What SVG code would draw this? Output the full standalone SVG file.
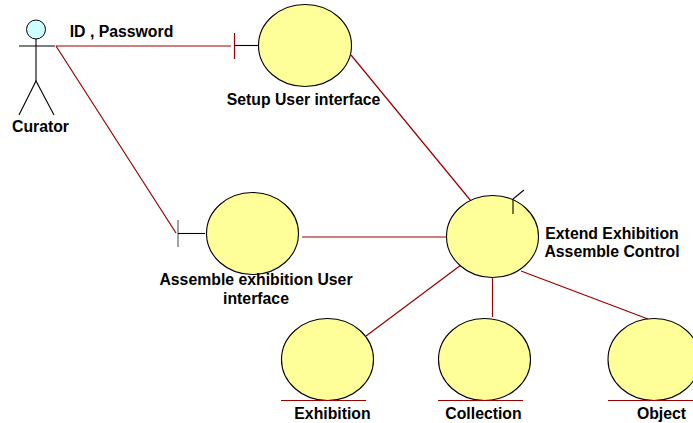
<svg xmlns="http://www.w3.org/2000/svg" width="693" height="423" viewBox="0 0 693 423">
<style>
.e{fill:#ffff99;stroke:#000;stroke-width:1.1}
.k{stroke:#000;stroke-width:1.1;fill:none}
.r{stroke:#990000;stroke-width:1.2;fill:none}
text{font-family:"Liberation Sans",Arial,sans-serif;font-size:15.8px;font-weight:bold;fill:#000;text-anchor:middle}
</style>
<rect width="693" height="423" fill="#fff"/>
<g id="connectors">
<line class="r" x1="56" y1="46" x2="231" y2="46"/>
<line class="r" x1="56" y1="46" x2="176" y2="233"/>
<line class="r" x1="351" y1="55" x2="471" y2="201"/>
<line class="r" x1="302" y1="237" x2="446" y2="237"/>
<line class="r" x1="461" y1="265" x2="366" y2="336"/>
<line class="r" x1="492.500" y1="278" x2="492.500" y2="317"/>
<line class="r" x1="521" y1="271" x2="648" y2="319"/>
</g>
<g id="curator">
<circle cx="36" cy="29.500" r="9.500" fill="#ccffff" stroke="#000"/>
<line class="k" x1="36" y1="39" x2="36" y2="81"/>
<line class="k" x1="19" y1="46" x2="55" y2="46"/>
<path class="k" d="M19 115L36 81L54 115"/>
<text x="40.500" y="132">Curator</text>
</g>
<text id="id-password" x="121.500" y="37">ID , Password</text>
<g id="setup">
<line class="r" x1="234.500" y1="33" x2="234.500" y2="59"/>
<line class="k" x1="234" y1="45.500" x2="262" y2="45.500"/>
<ellipse class="e" cx="305" cy="45.500" rx="46.500" ry="41"/>
<text x="303.500" y="105">Setup User interface</text>
</g>
<g id="assemble-ui">
<line stroke="#666" stroke-width="1.200" x1="178" y1="220" x2="178" y2="247"/>
<line class="k" x1="178" y1="233.500" x2="205" y2="233.500"/>
<ellipse class="e" cx="252.500" cy="233.500" rx="46" ry="41"/>
<text x="256" y="285">Assemble exhibition User</text>
<text x="256" y="304">interface</text>
</g>
<g id="control">
<ellipse class="e" cx="492.500" cy="236.500" rx="46" ry="41"/>
<path class="k" d="M513 214V199L524 190"/>
<text x="612" y="239">Extend Exhibition</text>
<text x="612" y="257">Assemble Control</text>
</g>
<g id="exhibition">
<ellipse class="e" cx="327.500" cy="359.500" rx="46" ry="41"/>
<line class="r" x1="281" y1="400.500" x2="366" y2="400.500"/>
<text x="332.500" y="419">Exhibition</text>
</g>
<g id="collection">
<ellipse class="e" cx="484.500" cy="359.500" rx="46" ry="41"/>
<line class="r" x1="438" y1="400.500" x2="523" y2="400.500"/>
<text x="483.500" y="419">Collection</text>
</g>
<g id="object">
<ellipse class="e" cx="654" cy="359.500" rx="46" ry="41"/>
<line class="r" x1="608" y1="400.500" x2="693" y2="400.500"/>
<text x="661.500" y="419">Object</text>
</g>
</svg>
